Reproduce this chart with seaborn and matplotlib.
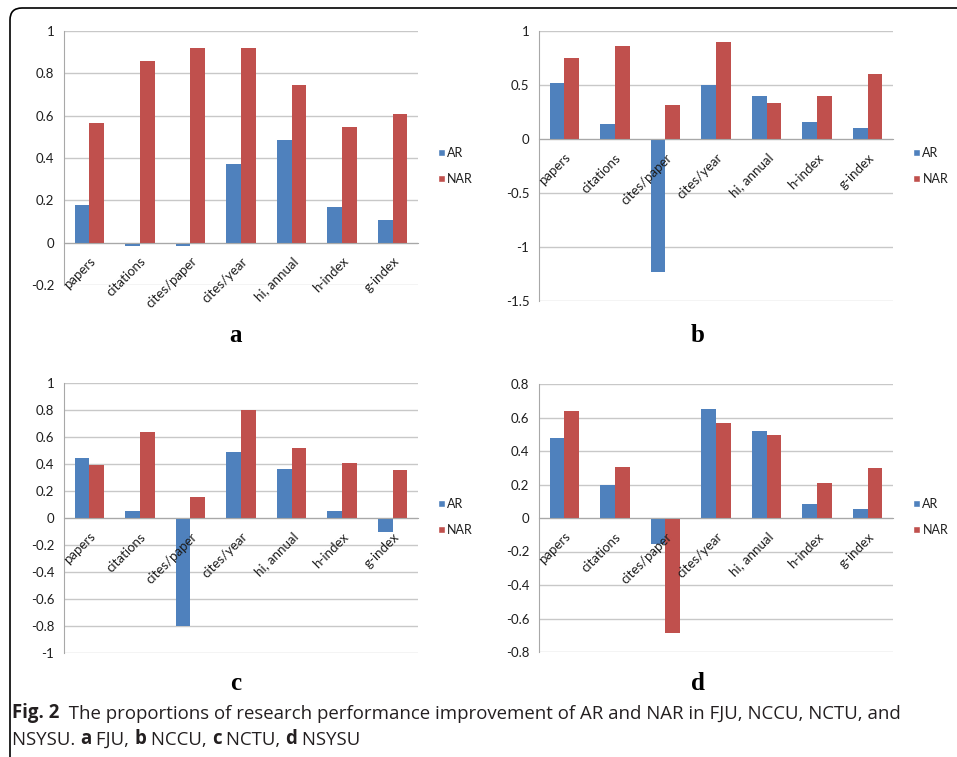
import numpy as np
import pandas as pd
import matplotlib
matplotlib.use('Agg')
import matplotlib.pyplot as plt
import seaborn as sns
from matplotlib.patches import Patch, FancyBboxPatch
from matplotlib.text import Annotation
from matplotlib.ticker import FuncFormatter
from matplotlib.transforms import IdentityTransform

# DATA: values
metrics = ['papers', 'citations', 'cites/paper', 'cites/year', 'hi, annual', 'h-index', 'g-index']
groups = ['AR', 'NAR']

ar_a = [0.18, -0.018, -0.018, 0.37, 0.485, 0.168, 0.108]
nar_a = [0.563, 0.86, 0.918, 0.922, 0.745, 0.546, 0.61]

ar_b = [0.523, 0.14, -1.23, 0.50, 0.40, 0.155, 0.10]
nar_b = [0.746, 0.864, 0.316, 0.895, 0.337, 0.40, 0.604]

ar_c = [0.447, 0.054, -0.80, 0.486, 0.365, 0.049, -0.107]
nar_c = [0.39, 0.635, 0.158, 0.80, 0.521, 0.41, 0.358]

ar_d = [0.48, 0.196, -0.157, 0.65, 0.52, 0.084, 0.056]
nar_d = [0.64, 0.303, -0.684, 0.57, 0.493, 0.21, 0.30]

panel_letters = ['a', 'b', 'c', 'd']

# STYLE
sns.set_style('white')
plt.rcParams['font.family'] = ['Lato', 'DejaVu Sans']
plt.rcParams['axes.unicode_minus'] = False

BLUE = '#4f81bd'
RED = '#c0504d'
GRID = '#c8c8c8'
AXIS = '#a8a8a8'
TEXT = '#1e1e1e'

W, H = 957, 757
fig = plt.figure(figsize=(W / 100, H / 100), dpi=100)


def px_rect(left, top, right, bottom):
    # pixel box (from top-left) -> figure fraction rect
    return [left / W, 1 - bottom / H, (right - left) / W, (bottom - top) / H]


panels = [
    (ar_a, nar_a, (64, 31, 418, 285), (-0.2, 1.0, 0.2), (438, 166), (236, 335)),
    (ar_b, nar_b, (539, 31, 893, 301), (-1.5, 1.0, 0.5), (913, 166), (698, 335)),
    (ar_c, nar_c, (64, 383, 418, 653), (-1.0, 1.0, 0.2), (438, 517), (236, 684)),
    (ar_d, nar_d, (539, 384, 893, 652), (-0.8, 0.8, 0.2), (913, 517), (698, 684)),
]

for (ar, nar, box, (lo, hi, step), leg_pos, lab_pos), letter in zip(panels, panel_letters):
    ax = fig.add_axes(px_rect(*box))

    df = pd.DataFrame({
        'metric': metrics * 2,
        'group': ['AR'] * len(metrics) + ['NAR'] * len(metrics),
        'value': ar + nar,
    })
    sns.barplot(data=df, x='metric', y='value', hue='group', order=metrics,
                hue_order=groups, palette=[BLUE, RED], saturation=1,
                width=0.58, errorbar=None, legend=False, linewidth=0, ax=ax)

    ax.set_xlabel('')
    ax.set_ylabel('')
    ax.set_xlim(-0.5, len(metrics) - 0.5)
    ax.set_ylim(lo, hi)
    ax.set_yticks(np.arange(lo, hi + step / 2, step))
    ax.yaxis.set_major_formatter(FuncFormatter(lambda v, p: f'{round(v, 2) + 0.0:g}'))

    # horizontal gridlines behind bars, category labels on top
    ax.yaxis.grid(True, color=GRID, linewidth=1)
    ax.yaxis.set_zorder(0.5)
    ax.xaxis.set_zorder(3)

    for side in ['top', 'right']:
        ax.spines[side].set_visible(False)
    ax.spines['left'].set_color(AXIS)
    ax.spines['bottom'].set_color(AXIS)
    ax.spines['bottom'].set_position(('data', 0))

    ax.tick_params(axis='y', length=3, width=1, color=AXIS, pad=4,
                   labelsize=9.5, labelcolor=TEXT, direction='out')
    ax.set_xticks(np.arange(-0.5, len(metrics), 1), minor=True)
    ax.tick_params(axis='x', which='minor', length=4, width=1, color=AXIS, direction='out')
    ax.tick_params(axis='x', which='major', length=0, pad=9, labelsize=9.5, labelcolor=TEXT)
    plt.setp(ax.get_xticklabels(), rotation=45, ha='right', va='top', rotation_mode='anchor')

    handles = [Patch(facecolor=BLUE, label='AR'), Patch(facecolor=RED, label='NAR')]
    ax.legend(handles=handles, loc='center left',
              bbox_to_anchor=(leg_pos[0] / W, 1 - leg_pos[1] / H),
              bbox_transform=fig.transFigure, frameon=False, fontsize=9,
              handlelength=0.55, handleheight=0.55, handletextpad=0.2,
              labelspacing=1.1, borderpad=0, borderaxespad=0, labelcolor=TEXT)

    fig.text(lab_pos[0] / W, 1 - lab_pos[1] / H, letter, ha='center', va='center',
             family='Liberation Serif', fontweight='bold', fontsize=18, color='black')

# CAPTION with mixed bold / regular pieces
CAP = '#231f20'
cap_size = 13.4


def caption_line(pieces, x, y):
    first_text, first_bold = pieces[0]
    prev = fig.text(x, y, first_text, fontsize=cap_size, family='Open Sans',
                    fontweight='bold' if first_bold else 'normal', color=CAP,
                    ha='left', va='bottom')
    for txt, bold in pieces[1:]:
        ann = Annotation(txt, xy=(1, 0), xycoords=prev, ha='left', va='bottom',
                         fontsize=cap_size, family='Open Sans',
                         fontweight='bold' if bold else 'normal', color=CAP)
        fig.add_artist(ann)
        prev = ann


caption_line([('Fig. 2', True),
              ('  The proportions of research performance improvement of AR and NAR in FJU, NCCU, NCTU, and', False)],
             12 / W, 1 - 723 / H)
caption_line([('NSYSU. ', False), ('a', True), (' FJU, ', False), ('b', True), (' NCCU, ', False),
              ('c', True), (' NCTU, ', False), ('d', True), (' NSYSU', False)],
             12 / W, 1 - 749 / H)

# rounded frame around the figure (open to the right and bottom)
frame = FancyBboxPatch((10, -12), 1000, H - 8 + 12,
                       boxstyle='round,pad=0,rounding_size=12',
                       transform=IdentityTransform(), facecolor='none',
                       edgecolor='black', linewidth=1.2)
fig.add_artist(frame)

plt.savefig('out.png', dpi=100)
